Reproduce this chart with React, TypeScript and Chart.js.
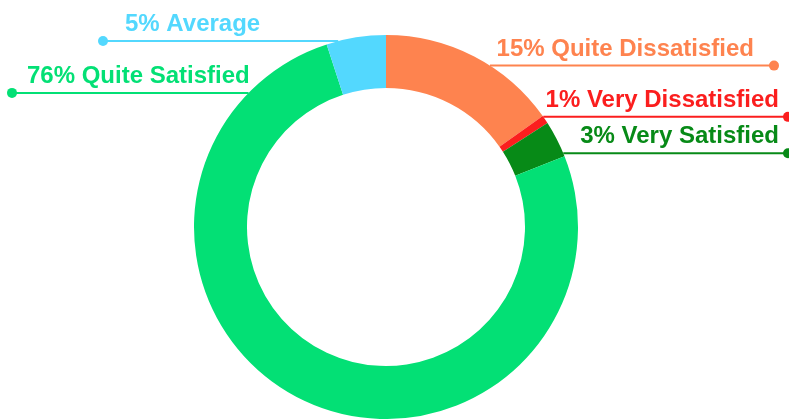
import React, { useEffect, useRef } from "react";
import { Chart, registerables } from "chart.js";

Chart.register(...registerables);

const categories = ["Quite Dissatisfied", "Very Dissatisfied", "Very Satisfied", "Quite Satisfied", "Average"];
const values = [15.2, 0.7, 3.1, 76.0, 5.0];
const colors = ["#FE834F", "#FB1E1E", "#078A17", "#03E075", "#53D8FE"];

// Leader-line layout (annotation placement only)
const labelAngles = [32.8, 55, 67.4, 314.3, 345.6]; // degrees clockwise from top, where line meets ring
const labelDotX = [774, 788, 788, 12, 103];
const labelTextX = [754, 779, 779, 27, 125];
const labelAlign: CanvasTextAlign[] = ["right", "right", "right", "left", "left"];

const outLabels = {
  id: "outLabels",
  afterDatasetsDraw(chart: any) {
    const meta = chart.getDatasetMeta(0);
    const arc = meta.data[0];
    if (!arc) return;
    const cx = arc.x;
    const cy = arc.y;
    const R = arc.outerRadius;
    const ctx = chart.ctx;
    ctx.save();
    categories.forEach((name, i) => {
      const a = (labelAngles[i] * Math.PI) / 180;
      const px = cx + R * Math.sin(a);
      const py = cy - R * Math.cos(a);
      ctx.strokeStyle = colors[i];
      ctx.fillStyle = colors[i];
      ctx.lineWidth = 2;
      ctx.beginPath();
      ctx.moveTo(px, py);
      ctx.lineTo(labelDotX[i], py);
      ctx.stroke();
      ctx.beginPath();
      ctx.arc(labelDotX[i], py, 5, 0, Math.PI * 2);
      ctx.fill();
      ctx.font = "bold 24px 'Liberation Sans', Arial, sans-serif";
      ctx.textAlign = labelAlign[i];
      ctx.textBaseline = "alphabetic";
      ctx.fillText(`${Math.round(values[i])}% ${name}`, labelTextX[i], py - 10);
    });
    ctx.restore();
  },
};

export default function App() {
  const ref = useRef<HTMLCanvasElement>(null);
  useEffect(() => {
    if (!ref.current) return;
    const chart = new Chart(ref.current, {
      type: "doughnut",
      data: {
        labels: categories,
        datasets: [
          {
            data: values,
            backgroundColor: colors,
            borderWidth: 0,
            hoverOffset: 0,
            offset: 0,
          },
        ],
      },
      options: {
        responsive: false,
        maintainAspectRatio: false,
        animation: false,
        cutout: "72.4%",
        layout: { padding: { left: 194, right: 211, top: 35, bottom: 0 } },
        plugins: { legend: { display: false }, tooltip: { enabled: false } },
      },
      plugins: [outLabels],
    });
    return () => chart.destroy();
  }, []);
  return (
    <div style={{ position: "fixed", left: 0, top: 0, width: 789, height: 419, background: "#fff" }}>
      <canvas ref={ref} width={789} height={419} style={{ display: "block" }} />
    </div>
  );
}
